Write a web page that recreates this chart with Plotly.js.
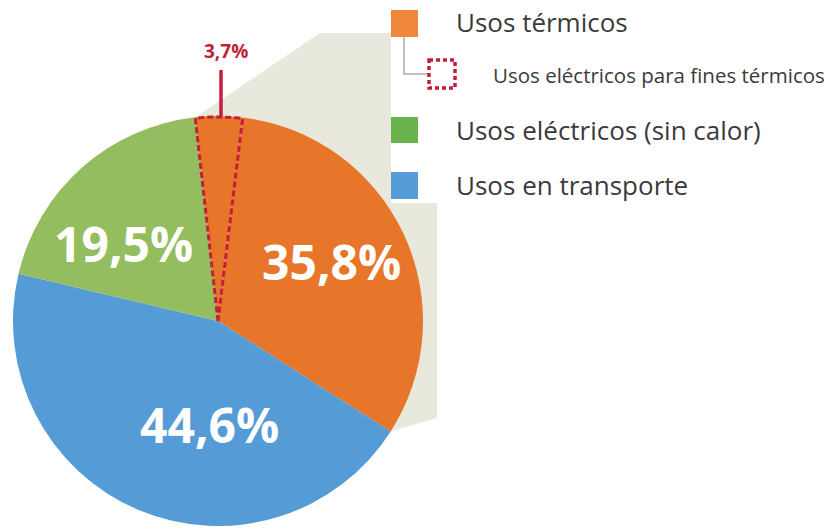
<!DOCTYPE html>
<html>
<head>
<meta charset="utf-8">
<script src="https://cdn.plot.ly/plotly-3.0.1.min.js"></script>
<style>html,body{margin:0;padding:0;background:#fff;}#chart{width:830px;height:527px;}</style>
</head>
<body>
<div id="chart"></div>
<script>
// ---- data ----
const sliceNames = ["Usos eléctricos para fines térmicos", "Usos térmicos", "Usos en transporte", "Usos eléctricos (sin calor)"];
const sliceValues = [3.7, 32.1, 44.6, 19.5];
const sliceColors = ["#E8762A", "#E8762A", "#559BD5", "#93BD5F"];
const labelTexts = ["35,8%", "44,6%", "19,5%"];   // térmicos total, transporte, eléctricos
const smallLabel = "3,7%";
const legendNames = ["Usos térmicos", "Usos eléctricos para fines térmicos", "Usos eléctricos (sin calor)", "Usos en transporte"];
const legendColors = ["#F0883C", "#FFFFFF", "#6AB24E", "#559BD5"];

// ---- geometry ----
const W = 830, H = 527;
const cx = 218, cy = 321, R = 205;
const rotation = -6.4;
const px = x => x / W;
const py = y => 1 - y / H;

const total = sliceValues.reduce((a, b) => a + b, 0);
const startAngles = [];
let acc = rotation;
sliceValues.forEach(v => { startAngles.push(acc); acc += v / total * 360; });
const pt = (deg, r) => [cx + r * Math.sin(deg * Math.PI / 180), cy - r * Math.cos(deg * Math.PI / 180)];

// dotted outline of first slice
const a0 = startAngles[0], a1 = startAngles[1];
let dotted = `M${px(cx)},${py(cy)}`;
for (let i = 0; i <= 12; i++) {
  const [x, y] = pt(a0 + (a1 - a0) * i / 12, R - 1);
  dotted += ` L${px(x)},${py(y)}`;
}
dotted += " Z";

// beige zoom band from the thermal slices to the legend
const pStart = pt(startAngles[0], R);
const pEnd = pt(startAngles[2], R);
const band = [pStart, [320, 33], [391, 33], [391, 203], [437, 203], [437, 418], pEnd, [cx, cy]];
const bandPath = "M" + band.map(p => `${px(p[0])},${py(p[1])}`).join(" L") + " Z";

const shapes = [
  {type: "path", xref: "paper", yref: "paper", path: bandPath, fillcolor: "#E9E8DC", line: {width: 0}, layer: "below"},
  {type: "path", xref: "paper", yref: "paper", path: dotted, fillcolor: "rgba(0,0,0,0)", line: {color: "#C41E3A", width: 3, dash: "6px,3px"}, layer: "above"},
  // 3,7% pointer
  {type: "line", xref: "paper", yref: "paper", x0: px(221), x1: px(221), y0: py(70), y1: py(116), line: {color: "#C41E3A", width: 3.5}},
  // legend
  {type: "rect", xref: "paper", yref: "paper", x0: px(391), x1: px(418), y0: py(10), y1: py(37), fillcolor: legendColors[0], line: {width: 0}},
  {type: "path", xref: "paper", yref: "paper", path: `M${px(404)},${py(37)} L${px(404)},${py(74)} L${px(428)},${py(74)}`, line: {color: "#B8A8A0", width: 1.5}},
  {type: "rect", xref: "paper", yref: "paper", x0: px(429), x1: px(455), y0: py(60), y1: py(88), fillcolor: legendColors[1], line: {color: "#C41E3A", width: 3.5, dash: "4px,3px"}},
  {type: "rect", xref: "paper", yref: "paper", x0: px(391), x1: px(418), y0: py(117), y1: py(143), fillcolor: legendColors[2], line: {width: 0}},
  {type: "rect", xref: "paper", yref: "paper", x0: px(391), x1: px(418), y0: py(172), y1: py(199), fillcolor: legendColors[3], line: {width: 0}}
];

const bigFont = {family: "Open Sans, sans-serif", size: 48, color: "#FFFFFF", weight: 700};
const legFont = {family: "Open Sans, sans-serif", size: 26, color: "#3A3A3A"};
const annotations = [
  {text: labelTexts[0], x: px(331), y: py(261), font: bigFont},
  {text: labelTexts[1], x: px(209), y: py(424), font: bigFont},
  {text: labelTexts[2], x: px(123), y: py(243), font: bigFont},
  {text: smallLabel, x: px(226), y: py(51), font: {family: "Open Sans, sans-serif", size: 19, color: "#C41E3A", weight: 700}},
  {text: legendNames[0], x: px(454), y: py(22), xanchor: "left", font: legFont},
  {text: legendNames[1], x: px(491), y: py(75), xanchor: "left", font: {family: "Open Sans, sans-serif", size: 20.5, color: "#3A3A3A"}},
  {text: legendNames[2], x: px(454), y: py(130), xanchor: "left", font: legFont},
  {text: legendNames[3], x: px(454), y: py(185), xanchor: "left", font: legFont}
].map(a => Object.assign({xref: "paper", yref: "paper", showarrow: false, xanchor: "center", yanchor: "middle"}, a));

const trace = {
  type: "pie",
  labels: sliceNames,
  values: sliceValues,
  sort: false,
  direction: "clockwise",
  rotation: rotation,
  marker: {colors: sliceColors, line: {width: 0}},
  textinfo: "none",
  hoverinfo: "label+percent",
  domain: {x: [px(cx - R), px(cx + R)], y: [py(cy + R), py(cy - R)]}
};

Plotly.newPlot("chart", [trace], {
  width: W, height: H,
  margin: {l: 0, r: 0, t: 0, b: 0},
  paper_bgcolor: "#FFFFFF",
  showlegend: false,
  shapes: shapes,
  annotations: annotations
}, {displayModeBar: false, staticPlot: true});
</script>
</body>
</html>
